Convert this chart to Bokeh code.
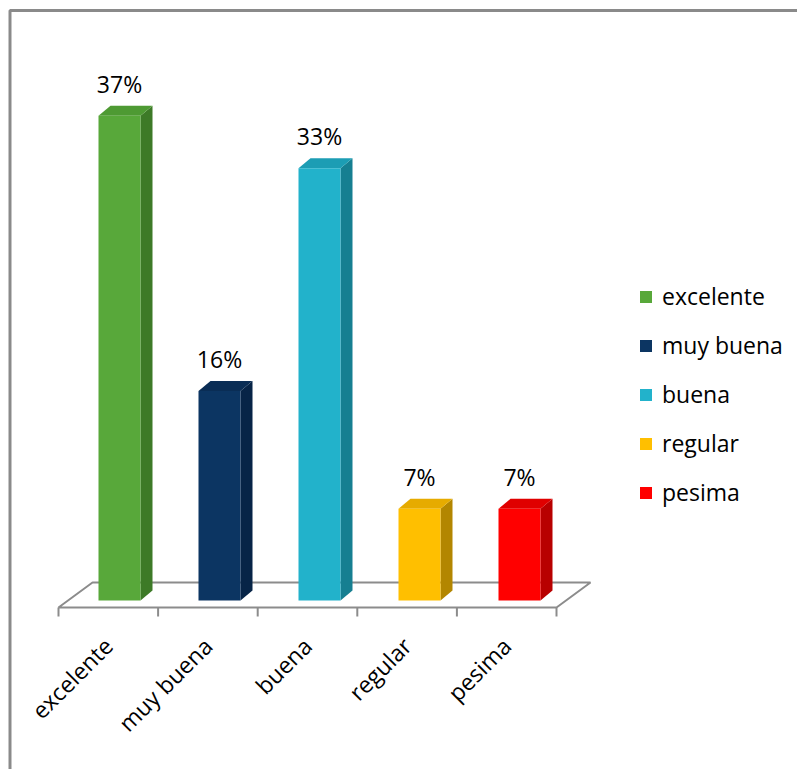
import math
from bokeh.plotting import figure
from bokeh.models import Range1d, Legend, LegendItem, ColumnDataSource
from bokeh.core.properties import value
from bokeh.embed import file_html
from bokeh.resources import INLINE

# ---- data ----
categories = ["excelente", "muy buena", "buena", "regular", "pesima"]
percent = [37, 16, 33, 7, 7]
value_labels = ["37%", "16%", "33%", "7%", "7%"]
front_colors = ["#58a83a", "#0c3562", "#22b2cb", "#ffbf00", "#ff0000"]
side_colors = ["#3d7a27", "#072447", "#167f91", "#b38600", "#b80000"]
top_colors = ["#4e9a33", "#0a2d55", "#1c9db4", "#e6ab00", "#e00000"]

W, H = 797, 769
PX0, PXU = 119.0, 100.0    # pixel of category 0, pixels per category
PY0, PYU = 600.0, 13.1     # pixel of 0 %, pixels per percent

def ux(px):  # pixel length -> data x length
    return px / PXU

def uy(px):  # pixel length -> data y length
    return px / PYU

FONT = "Open Sans"
FS = "23px"

p = figure(width=W, height=H, output_backend="svg", toolbar_location=None,
           x_range=Range1d(-PX0 / PXU, (W - PX0) / PXU),
           y_range=Range1d(-(H - PY0) / PYU, PY0 / PYU),
           x_axis_location=None, y_axis_location=None,
           min_border=0, outline_line_color=None)
p.grid.visible = False
p.background_fill_color = "white"
p.border_fill_color = "white"

n = len(categories)
xs = list(range(n))
hw = ux(21)
ddx, ddy = ux(12), uy(10)

# ---- floor ----
yf, yb = -uy(7), uy(18)
fl, fr = xs[0] - ux(61), xs[-1] + ux(37)
bl, br = xs[0] - ux(27), xs[-1] + ux(71)
p.patch([fl, fr, br, bl], [yf, yf, yb, yb], fill_color="white",
        line_color="#8c8c8c", line_width=2)
step = (fr - fl) / n
tick_x = [fl + k * step for k in range(n + 1)]
p.segment(x0=tick_x, y0=[yf] * (n + 1), x1=tick_x, y1=[yf - uy(9)] * (n + 1),
          line_color="#8c8c8c", line_width=2)

# ---- bars ----
src = ColumnDataSource(dict(
    x=xs, cat=categories, v=percent, lab=value_labels,
    left=[x - hw for x in xs], right=[x + hw for x in xs],
    fc=front_colors, sc=side_colors, tc=top_colors,
    side_x=[[x + hw, x + hw + ddx, x + hw + ddx, x + hw] for x in xs],
    side_y=[[0, ddy, v + ddy, v] for v in percent],
    top_x=[[x - hw, x + hw, x + hw + ddx, x - hw + ddx] for x in xs],
    top_y=[[v, v, v + ddy, v + ddy] for v in percent],
    lx=[x for x in xs], ly=[v + ddy + uy(6) for v in percent],
    cx=[(tick_x[k] + tick_x[k + 1]) / 2 for k in range(n)],
    cy=[yf - uy(34)] * n,
))
p.patches("side_x", "side_y", source=src, fill_color="sc", line_color=None)
p.patches("top_x", "top_y", source=src, fill_color="tc", line_color=None)
front = p.quad(left="left", right="right", bottom=0, top="v", source=src,
               fill_color="fc", line_color=None)

p.text(x="lx", y="ly", text="lab", source=src, text_align="center",
       text_baseline="bottom", text_font=value(FONT), text_font_size=FS,
       text_color="black")
p.text(x="cx", y="cy", text="cat", source=src, text_align="right",
       text_baseline="middle", angle=math.pi / 4, text_font=value(FONT),
       text_font_size=FS, text_color="black")

# ---- chart border (left and top) ----
def X(px):
    return (px - PX0) / PXU

def Y(py):
    return (PY0 - py) / PYU

p.line([X(9.5), X(9.5), X(W + 5)], [Y(H + 5), Y(10), Y(10)],
       line_color="#8a8a8a", line_width=3)

# ---- legend ----
items = [LegendItem(label=c, renderers=[front], index=i)
         for i, c in enumerate(categories)]
legend = Legend(items=items, location=(638, 261), padding=0, margin=0,
                spacing=17, glyph_width=15, glyph_height=15, label_height=26,
                label_standoff=9, label_text_font=FONT,
                label_text_font_size=FS, label_text_color="black",
                border_line_color=None, background_fill_alpha=0)
p.add_layout(legend)

open("out.html", "w").write(file_html(p, INLINE))
